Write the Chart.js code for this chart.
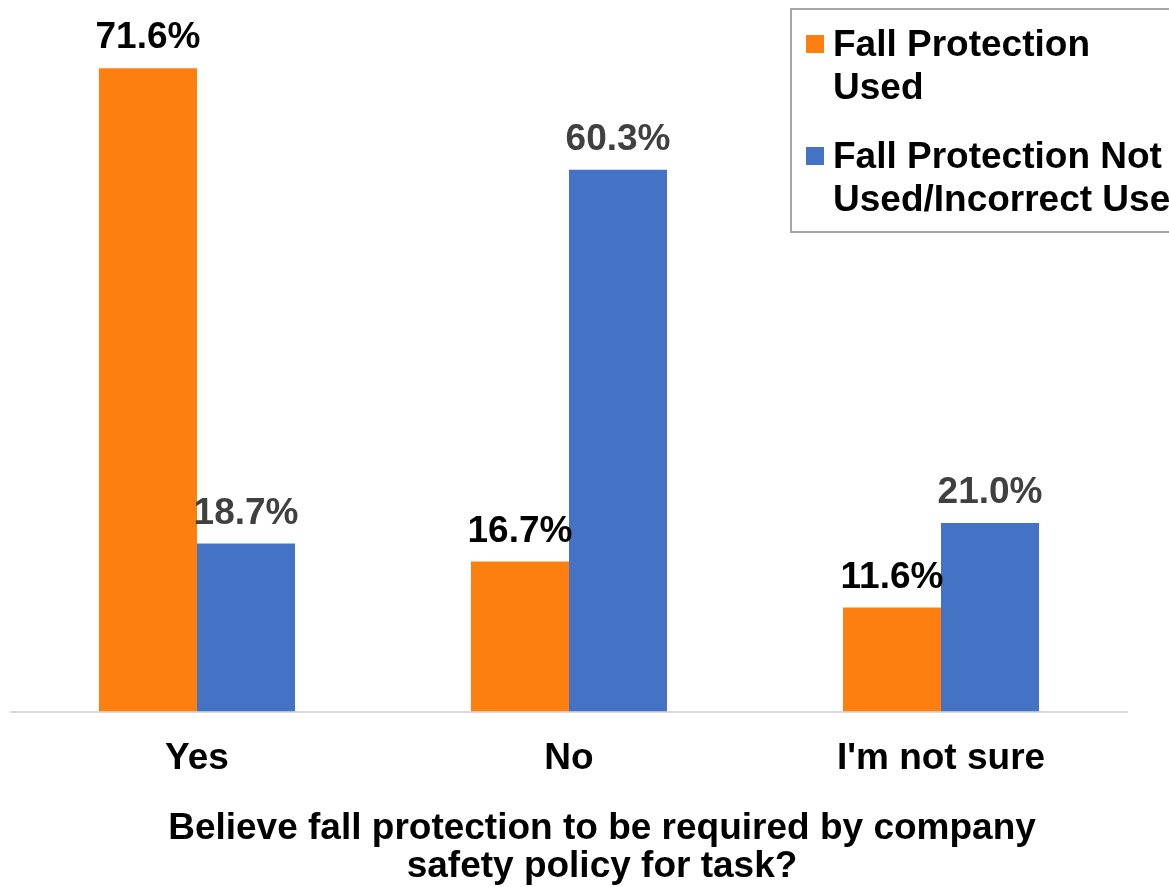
<!DOCTYPE html>
<html>
<head>
<meta charset="utf-8">
<script src="https://cdn.jsdelivr.net/npm/chart.js@4/dist/chart.umd.min.js"></script>
<style>
  html, body { margin: 0; padding: 0; background: #fff; overflow: hidden; }
  #wrap { position: relative; width: 1169px; height: 887px; }
  #legend {
    position: absolute; left: 790px; top: 8px; width: 420px; height: 225px;
    border: 2px solid #a6a6a6; box-sizing: border-box;
    font: bold 37px "Liberation Sans", Arial, sans-serif; color: #000;
  }
  .item { position: absolute; left: 41px; line-height: 43px; white-space: nowrap; }
  .swatch { position: absolute; left: -27px; top: 13px; width: 18px; height: 18px; }
</style>
</head>
<body>
<div id="wrap">
  <canvas id="chart" width="1169" height="887"></canvas>
  <div id="legend"></div>
</div>
<script>
const categories = ['Yes', 'No', "I'm not sure"];
const usedValues = [71.6, 16.7, 11.6];
const notUsedValues = [18.7, 60.3, 21.0];
const seriesNames = [['Fall Protection', 'Used'], ['Fall Protection Not', 'Used/Incorrect Use']];
const axisTitle = ['Believe fall protection to be required by company', 'safety policy for task?'];

const FONT = '"Liberation Sans", Arial, sans-serif';

// value labels above each bar
const barLabels = {
  id: 'barLabels',
  afterDatasetsDraw(chart) {
    const ctx = chart.ctx;
    ctx.save();
    ctx.font = 'bold 37px ' + FONT;
    ctx.textAlign = 'center';
    ctx.textBaseline = 'middle';
    chart.data.datasets.forEach((ds, i) => {
      ctx.fillStyle = ds.labelColor;
      chart.getDatasetMeta(i).data.forEach((bar, j) => {
        ctx.fillText(ds.data[j].toFixed(1) + '%', bar.x, bar.y - 30);
      });
    });
    ctx.restore();
  }
};

// x axis question, two centred lines under the category labels
const questionTitle = {
  id: 'questionTitle',
  afterDraw(chart) {
    const ctx = chart.ctx;
    ctx.save();
    ctx.font = 'bold 37px ' + FONT;
    ctx.fillStyle = '#000';
    ctx.textAlign = 'center';
    ctx.textBaseline = 'middle';
    axisTitle.forEach((line, i) => ctx.fillText(line, 602, 829 + i * 38));
    ctx.restore();
  }
};

const chart = new Chart(document.getElementById('chart'), {
  type: 'bar',
  data: {
    labels: categories,
    datasets: [
      { label: seriesNames[0].join(' '), data: usedValues, backgroundColor: '#fd7f10', labelColor: '#000000' },
      { label: seriesNames[1].join(' '), data: notUsedValues, backgroundColor: '#4472c4', labelColor: '#404040' }
    ]
  },
  options: {
    responsive: false,
    animation: false,
    layout: { padding: { left: 11, right: 42, top: 0, bottom: 81 } },
    datasets: { bar: { categoryPercentage: 0.527, barPercentage: 1 } },
    plugins: { legend: { display: false }, tooltip: { enabled: false } },
    scales: {
      x: {
        grid: { display: false, drawTicks: false },
        border: { display: true, color: '#d9d9d9', width: 2 },
        ticks: { color: '#000', padding: 25, font: { family: FONT, size: 37, weight: 'bold' } }
      },
      y: { display: false, min: 0, max: 79.2 }
    }
  },
  plugins: [barLabels, questionTitle]
});

// legend box built from the datasets
const legend = document.getElementById('legend');
const tops = [11.5, 123.5];
chart.data.datasets.forEach((ds, i) => {
  const item = document.createElement('div');
  item.className = 'item';
  item.style.top = tops[i] + 'px';
  item.innerHTML = '<span class="swatch" style="background:' + ds.backgroundColor + '"></span>' +
    seriesNames[i].join('<br>');
  legend.appendChild(item);
});
</script>
</body>
</html>
